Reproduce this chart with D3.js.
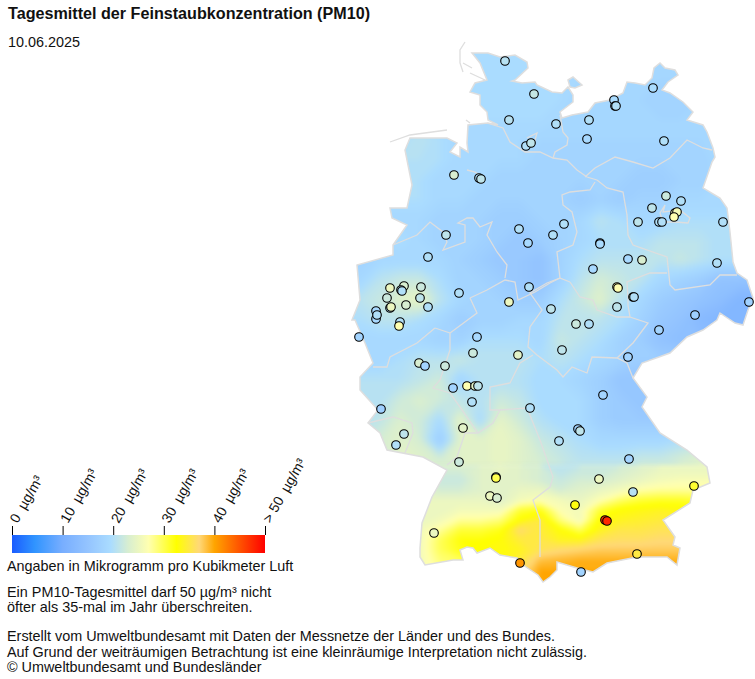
<!DOCTYPE html>
<html lang="de">
<head>
<meta charset="utf-8">
<title>PM10</title>
<script src="https://cdn.jsdelivr.net/npm/d3@7"></script>
<style>
  html, body { margin: 0; background: #fff; }
  svg { display: block; }
  text { font-family: "Liberation Sans", Arial, sans-serif; fill: #111; }
</style>
</head>
<body>
<div id="chart"></div>
<script>
// colour ramp of the legend
const colorValues = [0, 4.5, 10, 15, 19.5, 23, 27, 32.5, 37, 40, 50];
const colorList = ["#1a5cff", "#3094ff", "#78aeff", "#94c4ff", "#aadcff", "#d8eed0", "#ffffb0", "#ffff00", "#ffd878", "#ffa500", "#ff0000"];
const legendTicks = [0, 10, 20, 30, 40, 50];
const legendLabels = ["0  µg/m³", "10  µg/m³", "20  µg/m³", "30  µg/m³", "40  µg/m³", "> 50  µg/m³"];

// stations: position in map units (picture minus map origin) and PM10 value
const stationX = [155,184,159,206,239,264,265,266,303,237,314,176,181,104,129,131,316,331,302,325,327,324,288,309,312,373,169,214,203,178,250,250,96,78,278,292,367,243,267,268,283,284,40,54,51,52,71,70,37,56,40,41,78,109,179,159,201,267,399,345,309,226,239,26,26,27,50,49,9,127,123,168,212,278,69,75,95,117,125,128,103,122,253,180,31,228,230,209,54,46,113,109,279,146,146,249,344,140,147,283,225,255,257,84,287,170,231];
const stationY = [26,59,85,89,85,65,71,71,53,104,106,111,108,140,143,144,161,166,173,178,177,182,187,187,187,187,194,189,200,208,208,209,200,222,224,225,228,234,252,253,262,262,253,251,255,256,252,263,263,270,273,272,272,258,252,267,274,272,267,280,295,289,289,276,284,280,287,291,302,302,318,320,315,322,328,331,331,351,351,351,353,367,360,373,374,394,396,406,399,410,393,427,424,442,443,444,451,461,463,457,470,485,486,498,519,528,537];
const stationV = [20.5,21.5,20.5,20,20,19.5,19.5,20,19.5,19,20,20,21,23,20,21,22,20,21,26,26,27,21,20,20,20,20,20,20,19,19,19.5,21,20,19,23,20,19,27,27,24,20,25,23,21,20,22,21,22,23,20,25,20,20,20,25,21,21,17.5,17,18,22,20,19,19,20,20,27,18,19,22,24,21,18,23,18,22,27,24,21,18,20,18,20,17,18,21,20,21,20,24,22,18,20,30,25,31,25,23,20.5,32,47,47.5,25,35,41,18];

// PM10 field: one value every 20 units
const northX0 = -20, northY0 = -5, northStep = 20;
const fieldNorth = [
  [19.5,19.5,19.5,19.5,19.5,19.5,19.5,19.5,19.5,19.5,19.5,19.5,19,19,19,19,19,19,19,19,19,19],
  [19.5,19.5,19.5,19.5,19.5,19.5,19.5,19.5,19.5,19.5,19.5,19.5,19,19,19,19,19,19,19,19,19,19],
  [19.5,19.5,19.5,19.5,19.5,19.5,19.5,19.5,19.5,19.5,19.5,19.5,19,19,18.5,18.5,18.5,18.5,19,19,19,19],
  [19.5,19.5,19.5,19.5,19.5,19.5,19.5,19.5,19.5,19.5,19.5,19.5,18.5,18.5,18.5,18.5,18,18,18.5,18.5,18.5,18.5],
  [20,20,20,20,20,19.5,19.5,19.5,19.5,19.5,19.5,19,18.5,18.5,18.5,18.5,18.5,18.5,18.5,18.5,18.5,18.5],
  [20,20,20,20,21,20,19,19,19,19,18.5,18.5,18.5,18.5,18.5,18.5,18.5,18.5,18.5,18.5,18.5,18.5],
  [20,20,20,20.5,20.5,20,19,19,19,19,18,18,18,18,18,18,18,18,18,19,19,19],
  [20,20,20,20,20,19,19,19,18,18,18,18,18,18,18,17,17,18,18,19,19,19],
  [20,20,20,20,20,19,19,18,18,18,18,18,17,18,17,18,18,19,19,19,19,19],
  [19,19,19,19,19,18,18,18,17,17,18,18,19,21,20,19,19,20,20,20,20,20],
  [19,19,19,20,19,18,18,18,17,16,17,18,19,20,20,20,21,21,21,20,20,20],
  [18,18,19,19,19,19,18,17,16,16,15,18,20,21,21,21,21,22,21,20,20,20],
  [19,19,21,22,22,20,18,18,17,16,15,18,21,23,22,21,19,18,17,15,15,15],
  [21,21,22,24,25,21,19,18,18,17,17,20,22,24,21,19,17,16,15,14,12,12],
  [20,20,21,21,20,19,17,18,18,19,19,21,21,21,20,18,16,15,13,12,12,12],
  [19,19,19,19,19,18,18,20,20,20,19,22,21,20,18,17,15,14,14,14,14,14],
  [19,19,19,20,21,21,22,21,21,21,20,21,20,19,18,17,17,17,17,17,17,17],
  [20.5,20.5,20.5,20.5,21.5,22.5,18.5,20.5,20.5,20.5,19.5,19.5,18.5,17.5,15.5,15.5,15.5,15.5,15.5,15.5,15.5,15.5],
  [20.5,20.5,20.5,22.5,23.5,22.5,21.5,20.5,22.5,21.5,19.5,19.5,19.5,17.5,16.5,15.5,15.5,15.5,15.5,15.5,15.5,15.5],
  [20.5,20.5,21.5,23.5,22.5,19.5,24.5,19.5,24.5,22.5,20.5,19.5,19.5,17.5,16.5,16.5,16.5,16.5,16.5,16.5,16.5,16.5],
  [22,22,23,24,23,17,24,24,25,24,22,21,20,19,19,19,19,20,21,21,21,21],
  [23,23,23,24,24,23,24,24,25,24,23,22,21,21,21,22,22,23,24,24,24,24]
];

// finer rows for the south, where the yellow band runs: x every 20, y every 10
const southX0 = 40, southY0 = 430, southStepX = 20, southStepY = 10;
const fieldSouth = [
  [24,24,23,23,24,25,24,23,21,22,22,23,24,25,25,25,25],
  [24,24,22,22,24,24,24,23,22,23,23,24,25,26,26.5,26.5,26.5],
  [25,24,23,23,24,24,25,25,23,24,25,26,27.5,28,28,28,27.5],
  [25,25,25,25,25,24,26,27,26,25,27,29.5,31,31.5,31.5,31,30],
  [25,25,25,26,26,26,31,32,27,26,31,33,33.5,34,33.5,33,33],
  [25,25,26,28,28,29,33,35,29,26,33,34,34.5,35,35,34,34],
  [25,26,28,31,31,32,37,35,33,30,34,35.5,35.5,36,36,35,35],
  [25,26,30,32.5,32.5,33,35,35.5,34,34,36,36.5,36.5,37,37,37,37],
  [25,26,30,32,33,33,34,36,37,37.5,38,38,38,38,38,38,38],
  [25,26,29,30,31,33,35,38.5,39,39.5,39.5,39.5,39.5,39.5,39.5,39.5,39.5],
  [25,26,28,30,31,33,36,40,40,40,40,40,39.5,39.5,39.5,39.5,39.5],
  [25,26,28,30,31,33,36,40,40.5,40.5,40.5,40,39.5,39.5,39.5,39.5,39.5],
  [25,26,28,30,31,33,36,40,40.5,40.5,40.5,40,39.5,39.5,39.5,39.5,39.5],
  [25,26,28,30,31,33,36,40,40.5,40.5,40.5,40,39.5,39.5,39.5,39.5,39.5]
];

// land outline and islands, map units
const germanyOutline = [[122,18],[138,18],[150,22],[165,20],[177,27],[178,33],[165,45],[162,46],[172,48],[185,47],[187,50],[202,57],[212,58],[218,52],[223,60],[223,67],[210,77],[212,83],[222,80],[238,77],[245,68],[260,65],[273,58],[277,47],[285,48],[295,50],[302,43],[304,33],[310,28],[315,33],[325,35],[328,40],[318,47],[312,55],[320,58],[333,67],[343,77],[337,85],[353,90],[357,97],[363,113],[365,122],[362,127],[353,153],[370,163],[377,173],[380,197],[383,227],[387,238],[397,245],[403,263],[398,275],[393,290],[385,288],[370,278],[367,285],[353,295],[337,302],[320,318],[292,328],[283,343],[297,362],[292,372],[310,398],[337,415],[357,432],[360,448],[343,455],[340,468],[313,485],[325,502],[323,510],[330,513],[327,530],[317,522],[287,522],[257,528],[243,537],[227,533],[207,527],[207,535],[200,542],[193,547],[188,540],[173,530],[167,523],[150,520],[140,513],[127,518],[123,513],[117,512],[110,515],[113,525],[103,525],[75,530],[70,522],[70,513],[72,488],[82,462],[97,435],[73,422],[37,415],[30,398],[18,388],[28,375],[10,355],[10,342],[23,328],[15,308],[5,285],[2,285],[10,265],[7,230],[43,220],[43,210],[57,190],[42,183],[40,173],[57,173],[62,150],[55,115],[60,103],[97,103],[107,108],[100,117],[110,122],[110,112],[118,117],[117,108],[118,90],[138,88],[148,90],[138,85],[137,77],[130,70],[130,60],[120,57],[125,48],[137,45],[130,28]];
const fehmarn = [[218,45],[223,42],[232,50],[225,53],[220,52]];
const islandLines = [
  [[40,107],[60,100],[97,95]],
  [[115,7],[110,15],[110,28],[113,37]],
  [[113,28],[122,33]],
  [[120,38],[135,45]],
  [[116,85],[120,88]]
];

// borders of the Länder, map units
const borderLines = [
  [[137,88],[153,93],[160,107],[175,117],[190,117],[203,123],[217,125],[227,135],[237,142],[247,145]],
  [[177,103],[187,98],[183,112]],
  [[210,80],[213,97],[218,103],[217,110],[205,117],[203,123]],
  [[235,142],[245,133],[265,122],[283,127],[303,133],[320,123],[337,105],[353,113],[362,115]],
  [[247,145],[257,153],[273,157],[277,180],[278,200],[283,210],[317,222],[320,250],[325,255],[360,250],[370,240],[387,240]],
  [[245,147],[240,155],[220,157],[212,160],[213,170],[222,177],[227,197],[223,210],[207,217],[210,243],[220,247]],
  [[317,238],[300,238],[277,247],[278,263],[278,270],[280,282],[298,288],[283,308],[267,323]],
  [[210,243],[197,248],[180,258],[192,275],[180,292],[178,312],[187,320],[207,335],[213,342],[222,332],[237,338],[242,322],[267,323],[277,328],[283,343]],
  [[220,247],[230,262],[243,265],[247,275],[267,282],[280,282]],
  [[120,263],[137,255],[155,245],[165,247],[168,265],[185,257],[200,248],[210,243]],
  [[120,263],[127,278],[100,298],[100,315],[90,345],[83,353],[100,358],[110,372],[128,398]],
  [[183,320],[170,328],[160,348],[140,352],[140,375],[150,375],[143,388],[128,398],[115,398],[107,422],[97,430]],
  [[150,375],[177,373],[190,405],[203,442],[200,452],[183,465],[190,485],[190,522]],
  [[85,293],[67,308],[40,322],[37,332],[23,332]],
  [[85,293],[100,298]],
  [[18,388],[43,382],[62,388],[63,398],[55,418]],
  [[43,210],[67,200],[80,187],[93,197],[97,207],[93,215],[115,207],[115,190],[108,188],[117,183],[123,183],[130,192],[142,187],[137,200],[147,217],[157,230],[155,243]],
  [[117,135],[125,137],[130,140]],
  [[315,170],[313,177],[330,175],[340,183],[338,188],[325,187],[313,187],[310,178],[315,170]]
];

const width = 755, height = 679;

const mapX = d3.scaleLinear().domain([0, 405]).range([350, 755]);
const mapY = d3.scaleLinear().domain([0, 555]).range([35, 590]);
const legendX = d3.scaleLinear().domain([0, 50]).range([12, 265]);
const color = d3.scaleLinear().domain(colorValues).range(colorList).clamp(true);

const svg = d3.select("#chart")
  .append("svg")
    .attr("width", width)
    .attr("height", height);

const defs = svg.append("defs");

const landPath = d3.line().x(d => mapX(d[0])).y(d => mapY(d[1]));

defs.append("clipPath")
    .attr("id", "land")
  .selectAll("path")
  .data([germanyOutline, fehmarn])
  .enter()
  .append("path")
    .attr("d", d => landPath(d) + "Z");

// soft edges so the contour stacks look like the smooth raster
[["soft", 3], ["softer", 2]].forEach(([id, dev]) => {
  defs.append("filter")
      .attr("id", id)
      .attr("color-interpolation-filters", "sRGB")
      .attr("x", "-5%").attr("y", "-5%").attr("width", "110%").attr("height", "110%")
    .append("feGaussianBlur")
      .attr("stdDeviation", dev);
});

// one stack of filled contours per grid
const levels = d3.range(0, 50.5, 0.5);

function drawField(g, grid, x0, y0, stepX, stepY) {
  const rows = grid.length, cols = grid[0].length;
  const contours = d3.contours()
    .size([cols, rows])
    .thresholds(levels)(grid.flat());
  const project = d3.geoTransform({
    point(x, y) {
      this.stream.point(mapX(x0 + x * stepX), mapY(y0 + y * stepY));
    }
  });
  g.selectAll("path")
    .data(contours)
    .enter()
    .append("path")
      .attr("d", d3.geoPath(project))
      .attr("fill", d => color(d.value));
}

const field = svg.append("g").attr("clip-path", "url(#land)");
drawField(field.append("g").attr("filter", "url(#soft)"), fieldNorth, northX0, northY0, northStep, northStep);
drawField(field.append("g").attr("filter", "url(#softer)"), fieldSouth, southX0, southY0, southStepX, southStepY);

// outline and inner borders
const borderColor = "#dedede";
svg.append("g")
  .selectAll("path")
  .data(borderLines.concat(islandLines))
  .enter()
  .append("path")
    .attr("d", landPath)
    .attr("fill", "none")
    .attr("stroke", borderColor)
    .attr("stroke-width", 1.3);

svg.append("g")
  .selectAll("path")
  .data([germanyOutline, fehmarn])
  .enter()
  .append("path")
    .attr("d", d => landPath(d) + "Z")
    .attr("fill", "none")
    .attr("stroke", borderColor)
    .attr("stroke-width", 1.5);

// stations
svg.append("g")
  .selectAll("circle")
  .data(d3.range(stationX.length))
  .enter()
  .append("circle")
    .attr("cx", i => mapX(stationX[i]))
    .attr("cy", i => mapY(stationY[i]))
    .attr("r", 4.3)
    .attr("fill", i => color(stationV[i]))
    .attr("stroke", "#000")
    .attr("stroke-width", 1.1);

// legend
const gradient = defs.append("linearGradient").attr("id", "ramp");
gradient.selectAll("stop")
  .data(colorValues)
  .enter()
  .append("stop")
    .attr("offset", d => (d / 50 * 100) + "%")
    .attr("stop-color", (d, i) => colorList[i]);

svg.append("rect")
    .attr("x", legendX(0))
    .attr("y", 535)
    .attr("width", legendX(50) - legendX(0))
    .attr("height", 18)
    .attr("fill", "url(#ramp)");

const legendAxis = d3.axisTop(legendX)
  .tickValues(legendTicks)
  .tickSize(9)
  .tickPadding(4)
  .tickFormat((d, i) => legendLabels[i]);

const legend = svg.append("g")
    .attr("transform", "translate(0,535)")
    .call(legendAxis);
legend.select(".domain").remove();
legend.selectAll("line").attr("stroke", "#000").attr("stroke-width", 1);
legend.selectAll("text")
    .attr("transform", "translate(5,-11) rotate(-60)")
    .attr("x", 0)
    .attr("y", 0)
    .attr("dy", 0)
    .attr("text-anchor", "start")
    .attr("font-size", 14)
    .attr("fill", "#111")
    .style("white-space", "pre")
    .style("font-family", "'Liberation Sans', Arial, sans-serif");

// texts
svg.append("text")
    .attr("x", 8).attr("y", 19)
    .attr("font-size", 16.15)
    .attr("font-weight", "bold")
    .text("Tagesmittel der Feinstaubkonzentration (PM10)");

const notes = [
  [8, 47, "10.06.2025"],
  [7, 571, "Angaben in Mikrogramm pro Kubikmeter Luft"],
  [7, 597, "Ein PM10-Tagesmittel darf 50 µg/m³ nicht"],
  [7, 612, "öfter als 35-mal im Jahr überschreiten."],
  [7, 641, "Erstellt vom Umweltbundesamt mit Daten der Messnetze der Länder und des Bundes."],
  [7, 657, "Auf Grund der weiträumigen Betrachtung ist eine kleinräumige Interpretation nicht zulässig."],
  [7, 672, "© Umweltbundesamt und Bundesländer"]
];
svg.append("g")
  .selectAll("text")
  .data(notes)
  .enter()
  .append("text")
    .attr("x", d => d[0])
    .attr("y", d => d[1])
    .attr("font-size", 14.4)
    .text(d => d[2]);
</script>
</body>
</html>
